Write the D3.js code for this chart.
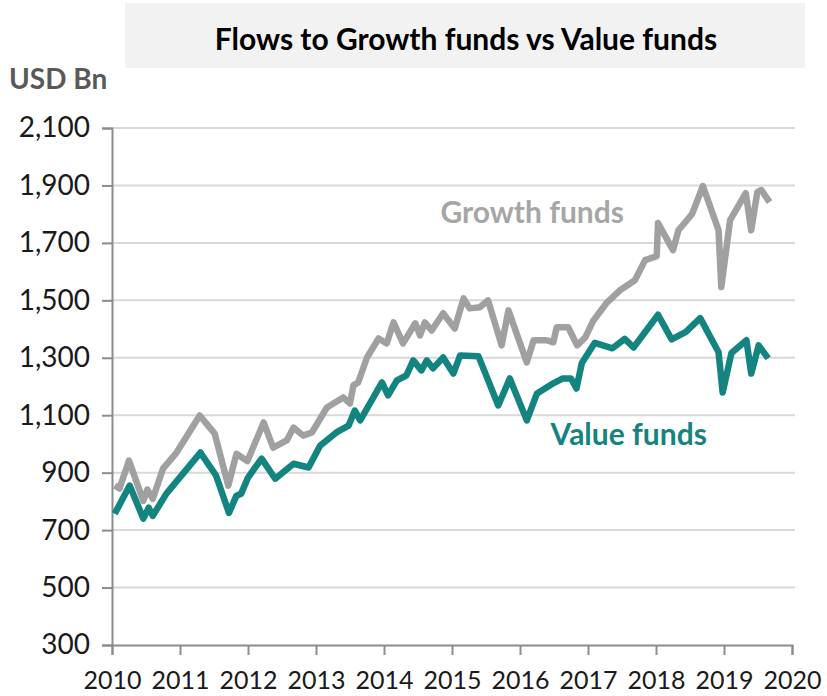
<!DOCTYPE html>
<html>
<head>
<meta charset="utf-8">
<script src="https://cdn.jsdelivr.net/npm/d3@7"></script>
<style>
  body { margin: 0; background: #fff; }
  text { font-family: Lato, "Open Sans", sans-serif; }
</style>
</head>
<body>
<div id="chart"></div>
<script>
// growth funds (gray) - decimal year / USD bn
var growthDates = [2010.04, 2010.11, 2010.25, 2010.46, 2010.52, 2010.60, 2010.75, 2010.95, 2011.29, 2011.51,
  2011.71, 2011.83, 2011.99, 2012.23, 2012.37, 2012.57, 2012.67, 2012.81, 2012.94, 2013.16,
  2013.40, 2013.50, 2013.55, 2013.62, 2013.75, 2013.92, 2014.04, 2014.14, 2014.28, 2014.46,
  2014.53, 2014.60, 2014.70, 2014.87, 2015.04, 2015.17, 2015.26, 2015.41, 2015.53, 2015.73,
  2015.83, 2016.10, 2016.20, 2016.39, 2016.49, 2016.54, 2016.71, 2016.84, 2016.96, 2017.08,
  2017.27, 2017.47, 2017.69, 2017.84, 2018.01, 2018.03, 2018.25, 2018.33, 2018.53, 2018.69,
  2018.92, 2018.96, 2019.09, 2019.32, 2019.40, 2019.49, 2019.55, 2019.67];
var growthValues = [855, 845, 942, 802, 841, 809, 914, 970, 1099, 1036,
  855, 966, 940, 1075, 987, 1012, 1057, 1029, 1040, 1127,
  1162, 1141, 1204, 1214, 1301, 1367, 1350, 1423, 1350, 1420,
  1378, 1423, 1395, 1455, 1402, 1507, 1472, 1476, 1500, 1343,
  1465, 1284, 1361, 1361, 1354, 1406, 1406, 1343, 1371, 1430,
  1490, 1535, 1570, 1640, 1654, 1769, 1675, 1744, 1800, 1898,
  1744, 1546, 1779, 1873, 1744, 1877, 1884, 1842];

// value funds (teal)
var valueDates = [2010.04, 2010.26, 2010.46, 2010.54, 2010.60, 2010.80, 2011.30, 2011.53, 2011.72, 2011.83,
  2011.90, 2012.00, 2012.20, 2012.40, 2012.67, 2012.89, 2013.06, 2013.30, 2013.48, 2013.57,
  2013.65, 2013.97, 2014.06, 2014.19, 2014.33, 2014.43, 2014.55, 2014.63, 2014.72, 2014.87,
  2015.02, 2015.12, 2015.39, 2015.68, 2015.85, 2016.10, 2016.25, 2016.49, 2016.63, 2016.75,
  2016.83, 2016.91, 2017.10, 2017.36, 2017.54, 2017.67, 2018.03, 2018.23, 2018.44, 2018.65,
  2018.92, 2018.98, 2019.11, 2019.33, 2019.40, 2019.51, 2019.65];
var valueValues = [757, 855, 740, 778, 750, 827, 970, 890, 760, 820,
  827, 883, 949, 879, 931, 918, 994, 1040, 1064, 1116,
  1082, 1214, 1169, 1221, 1239, 1291, 1256, 1291, 1263, 1301,
  1245, 1308, 1305, 1134, 1228, 1082, 1176, 1211, 1228, 1228,
  1193, 1282, 1352, 1333, 1366, 1336, 1450, 1364, 1390, 1438,
  1319, 1179, 1317, 1361, 1245, 1343, 1298];

var yTicks = [300, 500, 700, 900, 1100, 1300, 1500, 1700, 1900, 2100];
var xTicks = [2010, 2011, 2012, 2013, 2014, 2015, 2016, 2017, 2018, 2019, 2020];

var title = "Flows to Growth funds vs Value funds";
var unitLabel = "USD Bn";

var W = 827, H = 696;
var margin = {top: 128, right: 35, bottom: 51, left: 112},
    width = W - margin.left - margin.right,
    height = H - margin.top - margin.bottom;

var svg = d3.select("#chart")
  .append("svg")
    .attr("width", W)
    .attr("height", H);

// title box
svg.append("rect")
    .attr("x", 125).attr("y", 3)
    .attr("width", 680).attr("height", 65)
    .attr("fill", "#f2f2f2");
svg.append("text")
    .attr("x", 466).attr("y", 50)
    .attr("text-anchor", "middle")
    .style("font-size", "30px")
    .style("font-weight", "bold")
    .attr("fill", "#000")
    .text(title);

svg.append("text")
    .attr("x", 9).attr("y", 89)
    .style("font-size", "28px")
    .style("font-weight", "bold")
    .attr("fill", "#595959")
    .text(unitLabel);

var g = svg.append("g")
    .attr("transform", "translate(" + margin.left + "," + margin.top + ")");

var x = d3.scaleLinear().domain([2010, 2020]).range([0, width]);
var y = d3.scaleLinear().domain([300, 2100]).range([height, 0]);

// gridlines
g.selectAll(".grid")
  .data(yTicks.slice(1))
  .enter().append("line")
    .attr("x1", 0).attr("x2", width + 3)
    .attr("y1", function(d) { return y(d); })
    .attr("y2", function(d) { return y(d); })
    .attr("stroke", "#d9d9d9")
    .attr("stroke-width", 2);

// y axis
var yAxis = g.append("g")
    .call(d3.axisLeft(y).tickValues(yTicks).tickSize(10).tickPadding(12)
      .tickFormat(d3.format(",")));
yAxis.select(".domain").attr("stroke", "#8c8c8c").attr("stroke-width", 2);
yAxis.selectAll(".tick line").attr("stroke", "#8c8c8c").attr("stroke-width", 2);
yAxis.selectAll("text")
    .style("font-size", "28px")
    .style("font-family", "Lato, sans-serif")
    .attr("fill", "#1a1a1a");

// x axis
var xAxis = g.append("g")
    .attr("transform", "translate(0," + height + ")")
    .call(d3.axisBottom(x).tickValues(xTicks).tickSize(10).tickPadding(16)
      .tickFormat(d3.format("d")));
xAxis.select(".domain").attr("stroke", "#8c8c8c").attr("stroke-width", 2);
xAxis.selectAll(".tick line").attr("stroke", "#8c8c8c").attr("stroke-width", 2);
xAxis.selectAll("text")
    .style("font-size", "25px")
    .style("font-family", "Lato, sans-serif")
    .attr("fill", "#1a1a1a");

var line = d3.line()
    .x(function(d) { return x(d[0]); })
    .y(function(d) { return y(d[1]); });

var growth = d3.zip(growthDates, growthValues);
var value = d3.zip(valueDates, valueValues);

g.append("path")
    .datum(growth)
    .attr("fill", "none")
    .attr("stroke", "#a0a0a0")
    .attr("stroke-width", 6.5)
    .attr("stroke-linejoin", "round")
    .attr("d", line);

g.append("path")
    .datum(value)
    .attr("fill", "none")
    .attr("stroke", "#138480")
    .attr("stroke-width", 6.5)
    .attr("stroke-linejoin", "round")
    .attr("d", line);

// series labels
g.append("text")
    .attr("x", x(2014.83)).attr("y", y(1768))
    .style("font-size", "30px")
    .style("font-weight", "bold")
    .attr("fill", "#a6a6a6")
    .text("Growth funds");

g.append("text")
    .attr("x", x(2016.45)).attr("y", y(998))
    .style("font-size", "30px")
    .style("font-weight", "bold")
    .attr("fill", "#138480")
    .text("Value funds");
</script>
</body>
</html>
